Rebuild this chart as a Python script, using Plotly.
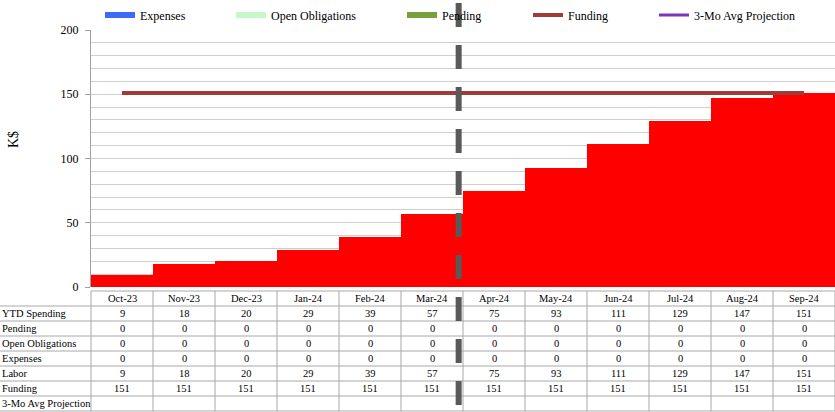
import plotly.graph_objects as go

# Fiscal-year months and the spending breakdown (K$)
months = ["Oct-23", "Nov-23", "Dec-23", "Jan-24", "Feb-24", "Mar-24",
          "Apr-24", "May-24", "Jun-24", "Jul-24", "Aug-24", "Sep-24"]
ytd_spending = [9, 18, 20, 29, 39, 57, 75, 93, 111, 129, 147, 151]
pending = [0, 0, 0, 0, 0, 0, 0, 0, 0, 0, 0, 0]
open_obligations = [0, 0, 0, 0, 0, 0, 0, 0, 0, 0, 0, 0]
expenses = [0, 0, 0, 0, 0, 0, 0, 0, 0, 0, 0, 0]
labor = [9, 18, 20, 29, 39, 57, 75, 93, 111, 129, 147, 151]
funding = [151, 151, 151, 151, 151, 151, 151, 151, 151, 151, 151, 151]
projection = [None] * 12

y_ticks = [0, 50, 100, 150, 200]

# Page geometry (pixels)
W, H = 835, 412
ML, MT, MB = 91, 30, 125
PW, PH = W - ML, H - MT - MB
Y0 = H - MB  # pixel row of the zero line


def px_x(p):
    return (p - ML) / PW


def px_y(p):
    return (Y0 - p) / PH


FONT = "Liberation Serif, Times New Roman, serif"
C_RED = "#ff0000"
C_EXP = "#3b6cf8"
C_OPEN = "#c6f7c6"
C_PEND = "#77a03d"
C_FUND = "#a33a3a"
C_PROJ = "#7a35b8"

fig = go.Figure()

# Stacked spending bars
fig.add_trace(go.Bar(x=months, y=labor, marker=dict(color=C_RED, line_width=0),
                     name="Labor", showlegend=False))
fig.add_trace(go.Bar(x=months, y=expenses, marker=dict(color=C_EXP, line_width=0),
                     name="Expenses", showlegend=False))
fig.add_trace(go.Bar(x=months, y=open_obligations, marker=dict(color=C_OPEN, line_width=0),
                     name="Open Obligations", showlegend=False))
fig.add_trace(go.Bar(x=months, y=pending, marker=dict(color=C_PEND, line_width=0),
                     name="Pending", showlegend=False))

# Funding ceiling and projection lines
fig.add_trace(go.Scatter(x=months, y=funding, mode="lines", name="Funding",
                         line=dict(color=C_FUND, width=4), legend="legend4"))
fig.add_trace(go.Scatter(x=months, y=projection, mode="lines", name="3-Mo Avg Projection",
                         line=dict(color=C_PROJ, width=3), legend="legend5"))

# Legend swatches for the stacked components (wide bar-style keys)
for name, color, lg in [("Expenses", C_EXP, "legend"),
                        ("Open Obligations", C_OPEN, "legend2"),
                        ("Pending", C_PEND, "legend3")]:
    fig.add_trace(go.Scatter(x=[None], y=[None], mode="lines", name=name,
                             line=dict(color=color, width=6), legend=lg))

# One legend box per entry so each key sits at its own spot along the top
legend_text_px = {"legend": 142, "legend2": 273, "legend3": 444,
                  "legend4": 570, "legend5": 696}
legend_layout = {}
for key, tx in legend_text_px.items():
    legend_layout[key] = dict(
        x=px_x(tx - 42), y=px_y(15), xanchor="left", yanchor="middle",
        orientation="h", bgcolor="rgba(0,0,0,0)", borderwidth=0,
        font=dict(family=FONT, size=12, color="#000"), itemwidth=30,
        tracegroupgap=0,
    )

shapes = []
annotations = []

# Data table beneath the plot
row_labels = ["YTD Spending", "Pending", "Open Obligations", "Expenses",
              "Labor", "Funding", "3-Mo Avg Projection"]
row_values = [ytd_spending, pending, open_obligations, expenses, labor, funding, projection]

T_TOP, ROW_H = 291, 15
n_rows = len(row_labels)
line_c = "#a8a8a8"

# horizontal rules
shapes.append(dict(type="line", xref="paper", yref="paper", x0=0, x1=1,
                   y0=px_y(T_TOP), y1=px_y(T_TOP), line=dict(color=line_c, width=1)))
for r in range(1, n_rows + 2):
    yy = px_y(T_TOP + r * ROW_H)
    shapes.append(dict(type="line", xref="paper", yref="paper", x0=px_x(0), x1=1,
                       y0=yy, y1=yy, line=dict(color=line_c, width=1)))
# vertical rules
for k in range(len(months) + 1):
    xx = k / len(months)
    shapes.append(dict(type="line", xref="paper", yref="paper", x0=xx, x1=xx,
                       y0=px_y(T_TOP), y1=px_y(T_TOP + (n_rows + 1) * ROW_H),
                       line=dict(color=line_c, width=1)))

# header row
for i, m in enumerate(months):
    annotations.append(dict(x=m, xref="x", y=px_y(T_TOP + ROW_H / 2), yref="paper",
                            text=m, showarrow=False, xanchor="center", yanchor="middle",
                            font=dict(family=FONT, size=10.5, color="#000")))
# body rows
for r, (lab, vals) in enumerate(zip(row_labels, row_values)):
    yc = px_y(T_TOP + ROW_H * (r + 1) + ROW_H / 2)
    annotations.append(dict(x=px_x(0), xref="paper", y=yc, yref="paper", text=lab,
                            showarrow=False, xanchor="left", yanchor="middle",
                            font=dict(family=FONT, size=10.5, color="#000")))
    for m, v in zip(months, vals):
        if v is None:
            continue
        annotations.append(dict(x=m, xref="x", y=yc, yref="paper", text=str(v),
                                showarrow=False, xanchor="center", yanchor="middle",
                                font=dict(family=FONT, size=10.5, color="#000")))

# Y-axis title
annotations.append(dict(x=px_x(13), xref="paper", y=px_y(140), yref="paper", text="K$",
                        textangle=-90, showarrow=False, xanchor="center", yanchor="middle",
                        font=dict(family=FONT, size=14, color="#000")))

# Dashed "today" marker between Mar-24 and Apr-24
x_marker = (5.43 + 0.5) / len(months)
shapes.append(dict(type="line", xref="paper", yref="paper", x0=x_marker, x1=x_marker,
                   y0=px_y(3), y1=px_y(405), layer="above",
                   line=dict(color="#595959", width=6, dash="24px,18px")))

fig.update_layout(
    width=W, height=H,
    margin=dict(l=ML, r=0, t=MT, b=MB, pad=0),
    paper_bgcolor="white", plot_bgcolor="white",
    barmode="stack", bargap=0,
    font=dict(family=FONT, size=12, color="#000"),
    shapes=shapes, annotations=annotations,
    **legend_layout,
)
fig.update_xaxes(range=[-0.5, 11.5], showticklabels=False, showgrid=False,
                 zeroline=False, showline=False, ticks="")
fig.update_yaxes(range=[0, 200], tickvals=y_ticks, ticktext=[str(v) for v in y_ticks],
                 showgrid=True, gridcolor="#cfcfcf", gridwidth=1,
                 minor=dict(dtick=10, showgrid=True, gridcolor="#cfcfcf", gridwidth=1),
                 showline=True, linecolor="#a0a0a0", linewidth=1,
                 ticks="outside", ticklen=5, tickcolor="#a0a0a0",
                 ticklabelstandoff=4, zeroline=False,
                 tickfont=dict(family=FONT, size=12, color="#000"))

fig.write_html("out.html")
